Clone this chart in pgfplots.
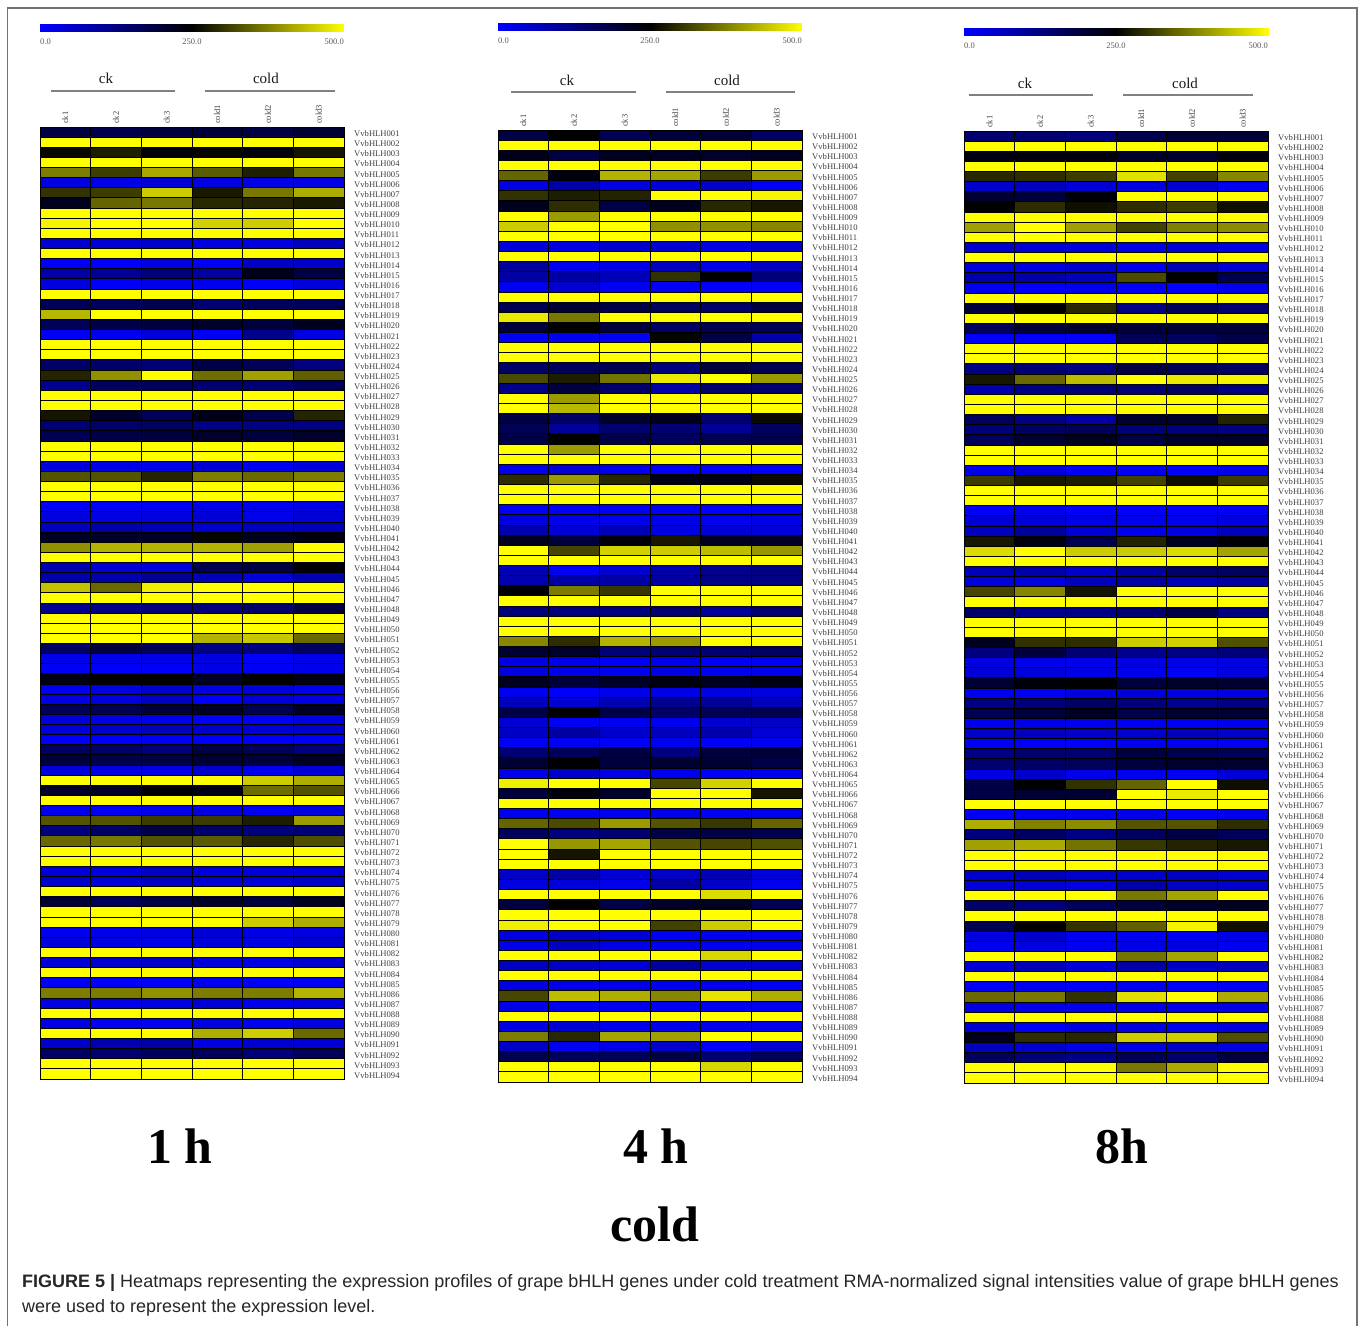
\documentclass[border=0pt]{standalone}
\usepackage{pgfplots}
\usepackage{pgfplotstable}
\usepackage{fontspec}
\setmainfont{Liberation Serif}
\newfontfamily\capfont{Liberation Sans}
\pgfplotsset{compat=1.18}
\pgfdeclareplotmark{hcell}{\pgfpathrectangle{\pgfqpoint{-25.33pt}{-5.064pt}}{\pgfqpoint{50.67pt}{10.128pt}}\pgfusepathqfillstroke}
\pgfplotstableread{
gene c1 c2 c3 c4 c5 c6
VvbHLH001 185 175 190 195 185 200
VvbHLH002 500 500 500 500 500 500
VvbHLH003 258 280 240 255 235 270
VvbHLH004 500 500 500 500 500 500
VvbHLH005 372 310 415 338 280 368
VvbHLH006 30 25 40 28 25 28
VvbHLH007 300 310 450 275 368 420
VvbHLH008 220 348 368 290 285 275
VvbHLH009 500 500 500 500 500 500
VvbHLH010 490 500 500 455 450 500
VvbHLH011 500 500 500 500 500 500
VvbHLH012 45 40 50 30 30 65
VvbHLH013 500 500 500 500 500 500
VvbHLH014 5 5 30 5 55 50
VvbHLH015 85 100 130 90 225 180
VvbHLH016 30 5 20 15 5 35
VvbHLH017 500 500 500 500 500 500
VvbHLH018 165 160 170 140 160 160
VvbHLH019 430 500 500 500 500 500
VvbHLH020 165 180 190 210 190 220
VvbHLH021 5 15 35 10 110 30
VvbHLH022 500 500 500 500 500 500
VvbHLH023 500 500 500 500 500 500
VvbHLH024 150 147 135 180 165 125
VvbHLH025 285 392 500 358 407 343
VvbHLH026 108 157 160 140 135 160
VvbHLH027 500 500 500 500 500 500
VvbHLH028 500 500 500 500 500 500
VvbHLH029 270 205 160 225 175 285
VvbHLH030 135 147 157 118 122 122
VvbHLH031 170 180 190 210 190 210
VvbHLH032 500 500 500 500 500 500
VvbHLH033 500 500 500 500 500 500
VvbHLH034 35 25 20 45 15 35
VvbHLH035 333 333 285 372 353 372
VvbHLH036 500 500 500 500 500 500
VvbHLH037 500 500 500 500 500 500
VvbHLH038 5 5 10 20 15 25
VvbHLH039 30 30 30 40 20 40
VvbHLH040 65 87 72 50 65 70
VvbHLH041 215 210 210 255 220 235
VvbHLH042 392 426 426 426 407 500
VvbHLH043 500 500 500 500 500 500
VvbHLH044 78 40 35 170 186 245
VvbHLH045 83 78 103 70 40 78
VvbHLH046 440 353 485 500 500 500
VvbHLH047 500 500 500 500 500 500
VvbHLH048 108 118 132 132 147 186
VvbHLH049 500 500 500 500 500 500
VvbHLH050 500 500 500 500 500 500
VvbHLH051 500 500 500 426 446 353
VvbHLH052 152 191 167 122 127 157
VvbHLH053 20 20 25 30 5 20
VvbHLH054 10 5 5 25 10 20
VvbHLH055 230 250 250 215 250 230
VvbHLH056 15 30 50 30 35 20
VvbHLH057 30 35 60 5 40 30
VvbHLH058 162 167 191 210 167 215
VvbHLH059 35 30 20 10 10 30
VvbHLH060 40 50 65 50 40 50
VvbHLH061 5 5 10 5 5 10
VvbHLH062 152 147 127 181 162 127
VvbHLH063 191 176 181 196 191 215
VvbHLH064 35 30 25 50 15 40
VvbHLH065 500 500 500 500 450 421
VvbHLH066 210 215 250 230 358 333
VvbHLH067 500 500 500 500 500 500
VvbHLH068 15 10 20 30 10 30
VvbHLH069 333 333 309 309 279 402
VvbHLH070 127 152 181 147 132 137
VvbHLH071 353 368 333 338 289 328
VvbHLH072 500 500 500 500 500 500
VvbHLH073 500 500 500 500 500 500
VvbHLH074 40 35 60 35 40 40
VvbHLH075 50 40 60 45 40 55
VvbHLH076 500 500 500 500 500 500
VvbHLH077 196 162 181 210 191 220
VvbHLH078 500 500 500 500 500 500
VvbHLH079 500 500 500 500 450 421
VvbHLH080 15 20 30 40 25 30
VvbHLH081 35 30 25 35 30 50
VvbHLH082 500 500 500 500 500 500
VvbHLH083 40 50 55 35 30 50
VvbHLH084 500 500 500 500 500 500
VvbHLH085 10 5 10 15 5 10
VvbHLH086 372 372 392 372 372 426
VvbHLH087 30 20 30 40 20 30
VvbHLH088 500 500 500 500 500 500
VvbHLH089 25 10 10 30 15 30
VvbHLH090 500 500 500 421 450 353
VvbHLH091 50 78 88 30 45 40
VvbHLH092 152 142 157 162 132 162
VvbHLH093 500 500 500 500 500 500
VvbHLH094 500 500 500 500 500 500
}\tabA
\pgfplotstableread{
gene c1 c2 c3 c4 c5 c6
VvbHLH001 181 250 167 191 196 152
VvbHLH002 500 500 500 500 500 500
VvbHLH003 225 181 220 215 210 220
VvbHLH004 500 500 500 500 500 500
VvbHLH005 348 235 426 412 309 402
VvbHLH006 30 83 30 35 55 10
VvbHLH007 299 279 284 500 500 490
VvbHLH008 220 294 181 220 289 274
VvbHLH009 500 402 500 500 500 500
VvbHLH010 450 500 500 392 392 382
VvbHLH011 500 500 500 500 500 500
VvbHLH012 35 30 50 45 30 50
VvbHLH013 500 500 500 500 500 500
VvbHLH014 98 15 25 65 25 65
VvbHLH015 88 93 70 299 250 132
VvbHLH016 15 45 10 10 5 5
VvbHLH017 500 500 500 500 500 500
VvbHLH018 171 201 181 157 147 186
VvbHLH019 480 368 500 500 500 500
VvbHLH020 191 250 191 152 171 167
VvbHLH021 10 15 10 255 181 83
VvbHLH022 500 500 500 500 500 500
VvbHLH023 500 500 500 500 500 500
VvbHLH024 147 162 171 127 191 171
VvbHLH025 324 279 363 480 500 402
VvbHLH026 118 191 147 88 147 142
VvbHLH027 500 402 500 500 500 500
VvbHLH028 500 431 500 500 500 500
VvbHLH029 186 152 211 225 142 260
VvbHLH030 167 98 142 137 103 157
VvbHLH031 181 250 181 157 171 176
VvbHLH032 500 402 500 500 500 500
VvbHLH033 500 500 500 500 500 500
VvbHLH034 15 40 20 5 5 10
VvbHLH035 294 402 289 230 230 260
VvbHLH036 500 500 500 500 500 500
VvbHLH037 500 500 500 500 500 500
VvbHLH038 10 10 10 10 5 15
VvbHLH039 30 20 15 20 15 25
VvbHLH040 78 40 70 30 40 35
VvbHLH041 220 191 240 274 220 215
VvbHLH042 500 319 455 450 436 397
VvbHLH043 500 500 500 500 500 500
VvbHLH044 74 10 45 83 113 122
VvbHLH045 78 88 88 93 118 122
VvbHLH046 250 372 304 500 500 500
VvbHLH047 500 500 500 500 500 500
VvbHLH048 132 127 127 142 98 142
VvbHLH049 500 500 500 500 500 500
VvbHLH050 500 500 500 500 500 500
VvbHLH051 382 294 426 402 500 500
VvbHLH052 201 206 132 137 142 152
VvbHLH053 25 20 10 20 10 10
VvbHLH054 30 20 15 30 15 20
VvbHLH055 220 191 211 235 220 230
VvbHLH056 15 5 20 25 30 30
VvbHLH057 65 45 74 108 103 65
VvbHLH058 181 250 181 152 167 176
VvbHLH059 40 10 15 15 45 55
VvbHLH060 59 93 50 65 83 40
VvbHLH061 10 10 10 15 10 15
VvbHLH062 137 162 186 127 191 196
VvbHLH063 201 250 191 201 201 181
VvbHLH064 20 50 25 15 10 15
VvbHLH065 485 500 500 319 455 500
VvbHLH066 191 240 206 500 500 270
VvbHLH067 500 500 500 500 500 500
VvbHLH068 15 10 15 20 10 15
VvbHLH069 348 324 402 333 304 348
VvbHLH070 157 122 137 181 181 171
VvbHLH071 500 397 412 333 319 328
VvbHLH072 500 270 500 500 500 500
VvbHLH073 500 500 500 500 500 500
VvbHLH074 55 88 40 55 74 35
VvbHLH075 30 35 20 88 55 15
VvbHLH076 500 500 500 500 466 500
VvbHLH077 186 250 181 211 220 171
VvbHLH078 500 500 500 500 500 500
VvbHLH079 485 500 500 314 450 500
VvbHLH080 30 55 35 10 15 20
VvbHLH081 20 59 25 15 15 20
VvbHLH082 500 500 500 500 461 500
VvbHLH083 59 55 40 93 45 50
VvbHLH084 500 500 500 500 500 500
VvbHLH085 30 20 20 15 20 10
VvbHLH086 319 436 421 382 475 421
VvbHLH087 25 15 15 15 15 15
VvbHLH088 500 500 500 500 500 500
VvbHLH089 30 45 20 20 20 20
VvbHLH090 372 289 412 407 500 500
VvbHLH091 55 15 25 50 5 45
VvbHLH092 171 162 167 181 137 167
VvbHLH093 500 500 500 500 461 500
VvbHLH094 500 500 500 500 500 500
}\tabB
\pgfplotstableread{
gene c1 c2 c3 c4 c5 c6
VvbHLH001 142 142 132 176 201 196
VvbHLH002 500 500 500 500 500 500
VvbHLH003 230 235 235 210 206 235
VvbHLH004 500 500 500 500 500 500
VvbHLH005 289 294 309 471 314 382
VvbHLH006 50 65 40 30 45 15
VvbHLH007 201 191 240 500 500 500
VvbHLH008 250 294 265 294 309 265
VvbHLH009 500 500 500 500 500 500
VvbHLH010 407 500 407 314 377 387
VvbHLH011 500 500 500 500 500 500
VvbHLH012 50 40 35 30 40 30
VvbHLH013 500 500 500 500 500 500
VvbHLH014 35 30 50 20 74 45
VvbHLH015 83 88 65 324 250 171
VvbHLH016 15 5 20 10 5 20
VvbHLH017 500 500 500 500 500 500
VvbHLH018 191 250 289 122 167 142
VvbHLH019 500 500 500 500 500 500
VvbHLH020 162 196 211 196 201 196
VvbHLH021 5 5 5 167 157 181
VvbHLH022 500 500 500 500 500 500
VvbHLH023 500 500 500 500 500 500
VvbHLH024 122 137 127 186 167 157
VvbHLH025 274 353 436 500 480 490
VvbHLH026 83 122 137 137 157 127
VvbHLH027 500 500 500 500 500 500
VvbHLH028 500 500 500 500 500 500
VvbHLH029 162 122 88 206 206 284
VvbHLH030 132 152 162 132 127 122
VvbHLH031 162 201 220 181 211 211
VvbHLH032 500 500 500 500 500 500
VvbHLH033 500 500 500 500 500 500
VvbHLH034 20 35 10 15 10 25
VvbHLH035 309 274 279 314 265 309
VvbHLH036 500 500 500 500 500 500
VvbHLH037 500 500 500 500 500 500
VvbHLH038 5 20 5 5 5 10
VvbHLH039 40 35 25 20 20 30
VvbHLH040 65 98 40 20 30 65
VvbHLH041 274 235 171 284 220 245
VvbHLH042 466 500 450 450 466 412
VvbHLH043 500 500 500 500 500 500
VvbHLH044 69 83 55 93 147 157
VvbHLH045 35 30 65 88 69 93
VvbHLH046 319 382 270 500 500 500
VvbHLH047 500 500 500 500 500 500
VvbHLH048 147 113 118 137 181 127
VvbHLH049 500 500 500 500 500 500
VvbHLH050 500 500 500 500 500 500
VvbHLH051 220 299 294 450 455 328
VvbHLH052 127 191 137 113 122 132
VvbHLH053 30 20 20 30 25 30
VvbHLH054 40 35 25 15 10 30
VvbHLH055 201 240 250 191 211 201
VvbHLH056 15 10 30 35 30 30
VvbHLH057 118 127 152 127 108 122
VvbHLH058 167 186 215 176 201 196
VvbHLH059 20 25 20 15 15 20
VvbHLH060 50 65 55 50 65 50
VvbHLH061 10 5 5 15 10 10
VvbHLH062 118 142 137 186 171 162
VvbHLH063 142 152 162 191 206 206
VvbHLH064 30 50 20 15 10 40
VvbHLH065 181 250 299 348 500 265
VvbHLH066 181 201 201 500 480 500
VvbHLH067 500 500 500 500 500 500
VvbHLH068 10 15 15 20 10 20
VvbHLH069 421 377 387 333 333 294
VvbHLH070 127 152 122 157 181 162
VvbHLH071 407 417 363 304 284 274
VvbHLH072 500 500 500 500 500 500
VvbHLH073 500 500 500 500 500 500
VvbHLH074 50 69 50 50 59 45
VvbHLH075 35 40 30 83 55 50
VvbHLH076 500 500 500 368 412 500
VvbHLH077 147 127 162 191 211 220
VvbHLH078 500 500 500 500 500 500
VvbHLH079 171 250 299 343 490 265
VvbHLH080 30 50 15 15 15 25
VvbHLH081 15 30 15 25 30 15
VvbHLH082 500 500 500 363 412 500
VvbHLH083 40 74 40 88 59 65
VvbHLH084 500 500 500 500 500 500
VvbHLH085 5 15 5 15 5 10
VvbHLH086 353 368 299 471 500 417
VvbHLH087 30 20 20 25 20 25
VvbHLH088 500 500 500 500 500 500
VvbHLH089 40 5 30 30 15 30
VvbHLH090 225 294 289 450 450 328
VvbHLH091 65 50 30 25 50 30
VvbHLH092 157 132 118 162 142 186
VvbHLH093 500 500 500 368 417 500
VvbHLH094 500 500 500 500 500 500
}\tabC
\pgfplotsset{
  bykmap/.style={
    colormap={byk}{rgb255(0)=(0,0,255); rgb255(1)=(0,0,0); rgb255(2)=(255,255,0)},
    point meta min=0, point meta max=500},
  heat/.style={
    bykmap,
    scale only axis, width=304pt, height=952pt,
    anchor=south west,
    xmin=-0.5, xmax=5.5, ymin=-0.5, ymax=93.5, y dir=reverse,
    axis on top,
    axis line style={color=black!45, line width=1pt},
    major tick length=0pt,
    xtick={0,...,5},
    xticklabels={ck1,ck2,ck3,cold1,cold2,cold3},
    xticklabel pos=top,
    xticklabel style={rotate=90, anchor=west, font=\fontsize{8.5}{8.5}\selectfont, text=black!75, inner sep=0pt, xshift=3pt},
    ytick={0,...,93},
    yticklabel pos=right,
    yticklabel style={anchor=west, font=\fontsize{8.6}{8.6}\selectfont, text=black!75, inner sep=0pt, xshift=10pt, yshift=-1.5pt},
  },
  cbar/.style={
    bykmap,
    scale only axis, width=304pt, height=8pt,
    anchor=south west,
    xmin=0, xmax=500, ymin=0, ymax=1,
    xtick=\empty, ytick=\empty,
    axis line style={draw=none},
    clip=false,
  },
  cellplot/.style={scatter, only marks, mark=hcell,
    scatter/use mapped color={draw=black, fill=mapped color},
    mark options={line width=0.9pt}},
}
\newcommand{\cbarbody}{%
  \addplot[surf, shader=interp, mesh/cols=5, point meta=x] coordinates {
    (0,0) (125,0) (250,0) (375,0) (500,0)
    (0,1) (125,1) (250,1) (375,1) (500,1)
  };
  \node[anchor=north west, inner sep=0pt, text=black!65, font=\fontsize{8.5}{8.5}\selectfont] at (axis cs:0,0) [yshift=-7pt] {0.0};
  \node[anchor=north, inner sep=0pt, text=black!65, font=\fontsize{8.5}{8.5}\selectfont] at (axis cs:250,0) [yshift=-7pt] {250.0};
  \node[anchor=north east, inner sep=0pt, text=black!65, font=\fontsize{8.5}{8.5}\selectfont] at (axis cs:500,0) [yshift=-7pt] {500.0};
}
\begin{document}
\begin{tikzpicture}[x=1pt,y=1pt]
\path[use as bounding box] (0,0) rectangle (1358,1326);
\fill[white] (0,0) rectangle (1358,1326);
\draw[color=black!55, line width=1.5pt] (7.5,0) -- (7.5,1318) -- (1357,1318) -- (1357,0);

\begin{axis}[cbar, at={(40pt,1294pt)}]\cbarbody\end{axis}
\begin{axis}[cbar, at={(498pt,1295pt)}]\cbarbody\end{axis}
\begin{axis}[cbar, at={(964pt,1290pt)}]\cbarbody\end{axis}

\begin{axis}[heat, at={(40pt,247pt)}, yticklabels from table={\tabA}{gene}]
\pgfplotsinvokeforeach{1,...,6}{
  \addplot[cellplot, point meta=\thisrow{c#1}] table[x expr=#1-1, y expr=\coordindex]{\tabA};
}
\end{axis}
\begin{axis}[heat, at={(498pt,244pt)}, yticklabels from table={\tabB}{gene}]
\pgfplotsinvokeforeach{1,...,6}{
  \addplot[cellplot, point meta=\thisrow{c#1}] table[x expr=#1-1, y expr=\coordindex]{\tabB};
}
\end{axis}
\begin{axis}[heat, at={(964pt,243pt)}, yticklabels from table={\tabC}{gene}]
\pgfplotsinvokeforeach{1,...,6}{
  \addplot[cellplot, point meta=\thisrow{c#1}] table[x expr=#1-1, y expr=\coordindex]{\tabC};
}
\end{axis}

\tikzset{grp/.style={font=\fontsize{15}{15}\selectfont, inner sep=0pt, text=black!90},
  grl/.style={color=black!50, line width=1.2pt},
  big/.style={font=\fontsize{50}{50}\selectfont\bfseries, inner sep=0pt}}
\node[grp] at (106,1248) {ck};  \node[grp] at (266,1248) {cold};
\draw[grl] (51,1235) -- (175,1235); \draw[grl] (205,1235) -- (335,1235);
\node[grp] at (567,1246) {ck};  \node[grp] at (727,1246) {cold};
\draw[grl] (511,1234) -- (636,1234); \draw[grl] (666,1234) -- (795,1234);
\node[grp] at (1025,1243) {ck}; \node[grp] at (1185,1243) {cold};
\draw[grl] (969,1231) -- (1093,1231); \draw[grl] (1123,1231) -- (1253,1231);

\node[big] at (180,180) {1 h};
\node[big] at (656,180) {4 h};
\node[big] at (1122,180) {8h};
\node[big] at (655,102) {cold};

\node[anchor=base west, inner sep=0pt, text=black!85, font=\capfont\fontsize{18}{18}\selectfont] at (22,38) {\textbf{FIGURE 5 |} Heatmaps representing the expression profiles of grape bHLH genes under cold treatment RMA-normalized signal intensities value of grape bHLH genes};
\node[anchor=base west, inner sep=0pt, text=black!85, font=\capfont\fontsize{18}{18}\selectfont] at (22,13) {were used to represent the expression level.};
\end{tikzpicture}
\end{document}
